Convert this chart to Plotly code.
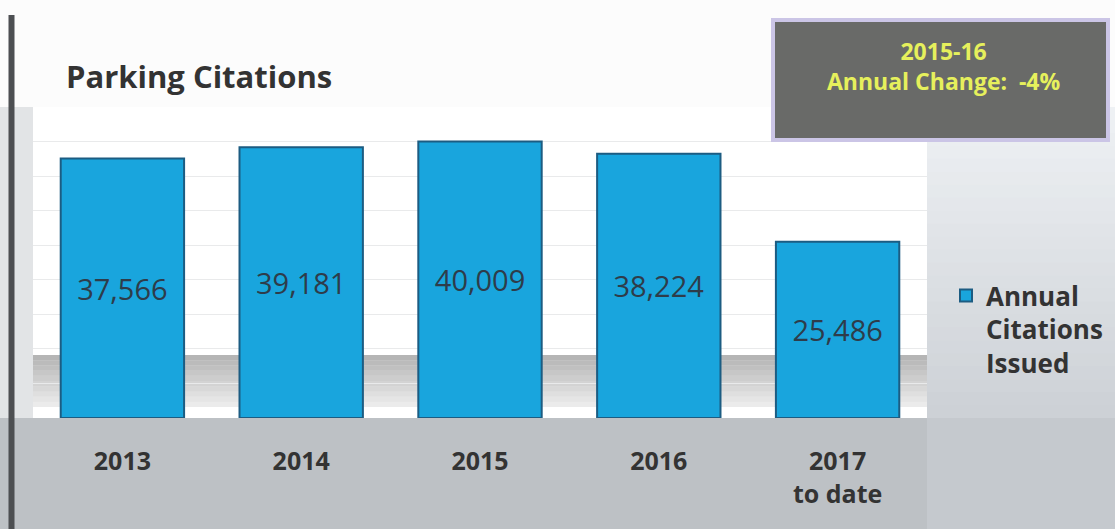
import plotly.graph_objects as go

# ---- data ----
categories = ["2013", "2014", "2015", "2016", "2017"]
tick_labels = ["2013", "2014", "2015", "2016", "2017<br>to date"]
citations = [37566, 39181, 40009, 38224, 25486]
series_name = "Annual<br>Citations<br>Issued"
title_text = "Parking Citations"
box_text = "2015-16<br>Annual Change:  -4%"

# ---- layout geometry (pixels) ----
W, H = 1115, 529
PLOT_L, PLOT_R, PLOT_T, PLOT_B = 33, 927, 107, 418
L, T = PLOT_L, PLOT_T
R, B = W - PLOT_R, H - PLOT_B
PW, PH = PLOT_R - PLOT_L, PLOT_B - PLOT_T


def px(x):
    return (x - PLOT_L) / PW


def py(y):
    return (PLOT_B - y) / PH


def lerp_hex(c0, c1, t):
    a = [int(c0[i:i + 2], 16) for i in (1, 3, 5)]
    b = [int(c1[i:i + 2], 16) for i in (1, 3, 5)]
    return "#" + "".join(f"{round(a[k] + (b[k] - a[k]) * t):02x}" for k in range(3))


FONT = "Open Sans"

fig = go.Figure()
fig.add_trace(go.Bar(
    x=categories, y=citations, name=series_name,
    marker=dict(color="#19a5dd", line=dict(color="#1c5c82", width=2)),
    texttemplate="%{y:,}", textposition="inside", insidetextanchor="middle",
    textangle=0,
    textfont=dict(family=FONT, size=29, color="#2e3c4a"),
    showlegend=True,
))

shapes = []
# top white band
shapes.append(dict(type="rect", xref="paper", yref="paper",
                   x0=px(0), x1=px(W), y0=py(PLOT_T), y1=py(0),
                   fillcolor="#fcfcfc", line=dict(width=0), layer="below"))
# left light strip
shapes.append(dict(type="rect", xref="paper", yref="paper",
                   x0=px(0), x1=px(PLOT_L), y0=py(PLOT_B), y1=py(PLOT_T),
                   fillcolor="#e2e4e6", line=dict(width=0), layer="below"))
# right legend region gradient (smooth-ish steps)
steps = 24
for i in range(steps):
    y0 = PLOT_T + PH * i / steps
    y1 = PLOT_T + PH * (i + 1) / steps + 1
    c = lerp_hex("#eef1f4", "#cdd1d6", i / (steps - 1))
    shapes.append(dict(type="rect", xref="paper", yref="paper",
                       x0=px(PLOT_R), x1=px(W), y0=py(y1), y1=py(y0),
                       fillcolor=c, line=dict(width=0), layer="below"))
# lower right gray
shapes.append(dict(type="rect", xref="paper", yref="paper",
                   x0=px(PLOT_R), x1=px(W), y0=py(H), y1=py(PLOT_B),
                   fillcolor="#c5c9ce", line=dict(width=0), layer="below"))
# shadow band between bars (gradient, darker at top)
sh_steps = 10
sh_top, sh_bot = 9100, 1600
for i in range(sh_steps):
    y1 = sh_top - (sh_top - sh_bot) * i / sh_steps
    y0 = sh_top - (sh_top - sh_bot) * (i + 1) / sh_steps
    op = 0.62 - 0.45 * i / (sh_steps - 1)
    shapes.append(dict(type="rect", xref="paper", yref="y",
                       x0=0, x1=1, y0=y0, y1=y1,
                       fillcolor=f"rgba(135,135,135,{op:.2f})", line=dict(width=0),
                       layer="below"))
# left dark border
shapes.append(dict(type="line", xref="paper", yref="paper",
                   x0=px(11.5), x1=px(11.5), y0=py(H), y1=py(15),
                   line=dict(color="#4d4f52", width=6)))
# annotation box
shapes.append(dict(type="rect", xref="paper", yref="paper",
                   x0=px(773), x1=px(1108), y0=py(140), y1=py(20),
                   fillcolor="#696a68", line=dict(color="#cbc5e6", width=4)))

fig.update_layout(
    width=W, height=H, autosize=False,
    margin=dict(l=L, r=R, t=T, b=B, pad=0, autoexpand=False),
    paper_bgcolor="#bdc1c5",
    plot_bgcolor="#ffffff",
    bargap=0.31,
    font=dict(family=FONT, color="#333333"),
    shapes=shapes,
    xaxis=dict(
        tickmode="array", tickvals=categories, ticktext=tick_labels,
        tickfont=dict(family=FONT, size=25, color="#333333", weight="bold"),
        showgrid=False, showline=False, zeroline=False, ticks="",
        ticklabelstandoff=26,
    ),
    yaxis=dict(
        range=[0, 45000], dtick=5000, showticklabels=False,
        showgrid=True, gridcolor="#e9eaeb", gridwidth=1,
        zeroline=False, showline=False,
    ),
    legend=dict(
        x=px(946), xanchor="left", y=py(272), yanchor="top",
        bgcolor="rgba(0,0,0,0)", valign="top", borderwidth=0,
        font=dict(family=FONT, size=26, color="#333333", weight="bold"),
        itemwidth=30,
    ),
    annotations=[
        dict(text=title_text, xref="paper", yref="paper",
             x=px(64), y=py(76), xanchor="left", yanchor="middle",
             showarrow=False,
             font=dict(family=FONT, size=31, color="#333333", weight="bold")),
        dict(text=box_text, xref="paper", yref="paper",
             x=px(944), y=py(66), xanchor="center", yanchor="middle",
             showarrow=False,
             font=dict(family=FONT, size=23, color="#e6f05c", weight="bold")),
    ],
)

page_fix = (
    "document.documentElement.style.overflow='hidden';"
    "document.body.style.margin='0';"
    "document.body.style.overflow='hidden';"
)
fig.write_html("out.html",
               config={"displayModeBar": False, "responsive": False},
               post_script=page_fix)
